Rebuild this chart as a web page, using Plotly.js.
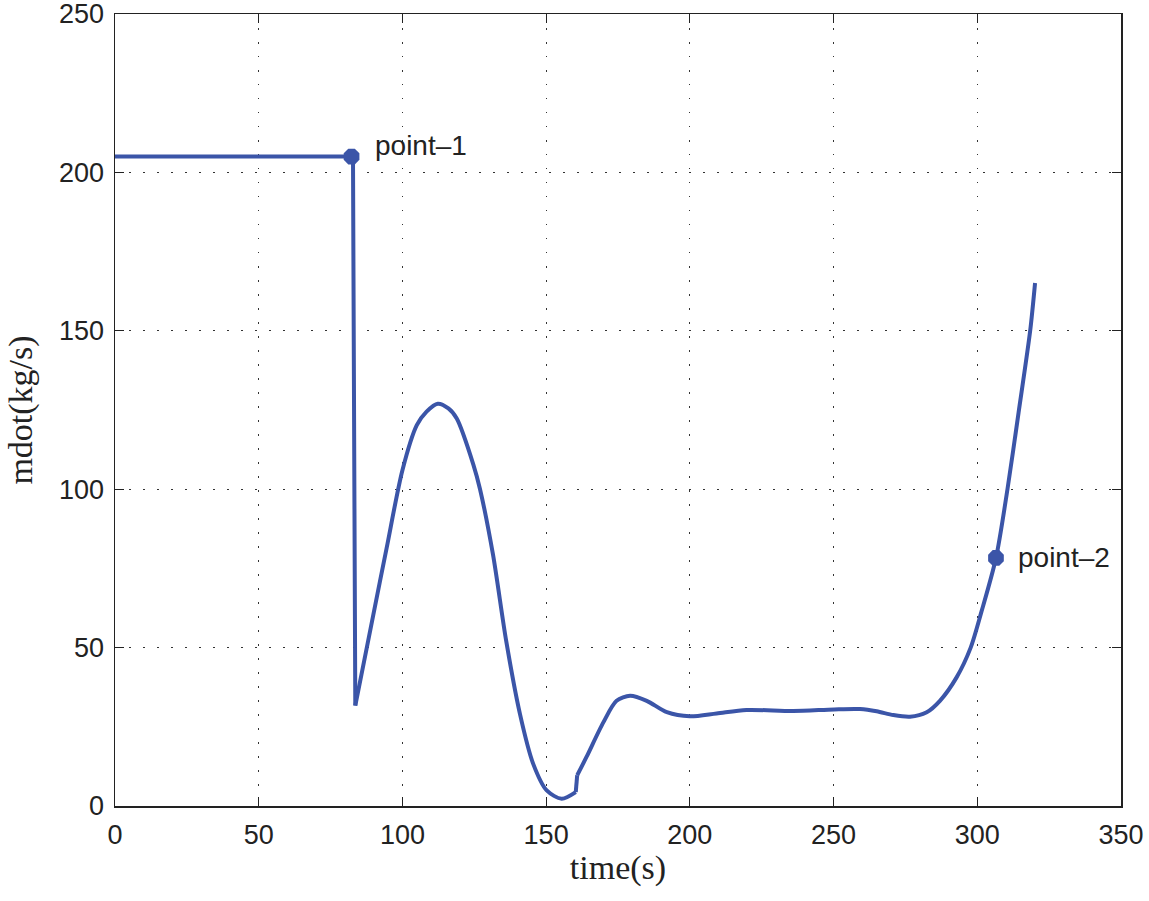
<!DOCTYPE html>
<html>
<head>
<meta charset="utf-8">
<script src="https://cdn.plot.ly/plotly-3.0.1.min.js"></script>
<style>html,body{margin:0;padding:0;background:#fff;}#chart{width:1149px;height:901px;}</style>
</head>
<body>
<div id="chart"></div>
<script>
// Data
const timeS = [0, 82.8, 83.6, 89.9, 94.5, 100, 105, 108.4, 112.3, 116, 118.9, 124.7, 127, 131.5, 136.1, 140.9, 145.5, 150.2, 155.4, 160.3, 160.8, 164, 169.9, 174.5, 179.2, 185, 192, 200, 209.3, 219.7, 236, 250.2, 259.2, 265, 270.8, 276.6, 282.4, 287, 292.8, 297.7, 301.5, 306.5, 310.5, 314.4, 318.4, 320.1];
const mdot  = [205, 205, 31.7, 60.5, 81.4, 106, 120.2, 124.5, 127.0, 125.5, 122.3, 107.7, 100, 79.4, 52.1, 29, 13.3, 4.9, 2.3, 4.4, 9.7, 15.4, 26.4, 33.2, 34.8, 33.2, 29.6, 28.3, 29.2, 30.3, 30.0, 30.5, 30.6, 29.9, 28.7, 28.2, 29.6, 33.2, 40.6, 50, 61.5, 78.3, 100, 124.4, 150, 165.1];

const pointNames = ["point\u20131", "point\u20132"];
const pointT = [82.3, 306.5];
const pointV = [205, 78.3];

const lineColor = "#3b55a8";

// Segments: sharp corners kept linear, smooth parts drawn as splines
const segments = [
  {from: 0, to: 2, shape: "linear"},
  {from: 2, to: 19, shape: "spline"},
  {from: 19, to: 20, shape: "linear"},
  {from: 20, to: timeS.length - 1, shape: "spline"}
];

const traces = segments.map(s => ({
  x: timeS.slice(s.from, s.to + 1), y: mdot.slice(s.from, s.to + 1),
  type: "scatter", mode: "lines",
  line: {color: lineColor, width: 4, shape: s.shape, smoothing: 0.8},
  hoverinfo: "skip"
}));
traces.push({x: pointT, y: pointV, type: "scatter", mode: "markers",
  marker: {symbol: "octagon", size: 17, color: lineColor}, hoverinfo: "skip"});

const annotations = pointNames.map((n, i) => ({
  x: pointT[i] + (i === 0 ? 7.6 : 6.9), y: pointV[i] + (i === 0 ? 3.5 : 0),
  xref: "x", yref: "y", text: n, showarrow: false,
  xanchor: "left", yanchor: "middle",
  font: {family: "Liberation Sans, Arial, sans-serif", size: 28, color: "#222"}
}));

const axisCommon = {
  showline: true, linecolor: "#222", linewidth: 1.5, mirror: "ticks",
  ticks: "inside", ticklen: 9, tickwidth: 1.2, tickcolor: "#222",
  showgrid: true, gridcolor: "#333", griddash: "1.5px,12.5px", gridwidth: 1.2,
  zeroline: false, ticklabeloverflow: "allow",
  tickfont: {family: "Liberation Sans, Arial, sans-serif", size: 27, color: "#222"}
};

const layout = {
  width: 1149, height: 901,
  margin: {l: 115, r: 28, t: 14, b: 95},
  paper_bgcolor: "#fff", plot_bgcolor: "#fff",
  showlegend: false,
  xaxis: Object.assign({}, axisCommon, {
    range: [0, 350], tickvals: [0, 50, 100, 150, 200, 250, 300, 350],
    ticklabelstandoff: 4,
    title: {text: "time(s)", standoff: 6,
      font: {family: "Liberation Serif, Times New Roman, serif", size: 34, color: "#222"}}
  }),
  yaxis: Object.assign({}, axisCommon, {
    range: [0, 250], tickvals: [0, 50, 100, 150, 200, 250],
    ticklabelstandoff: 4,
    title: {text: "mdot(kg/s)", standoff: 16,
      font: {family: "Liberation Serif, Times New Roman, serif", size: 34, color: "#222"}}
  }),
  annotations: annotations
};

Plotly.newPlot("chart", traces, layout, {staticPlot: true, displayModeBar: false});
</script>
</body>
</html>
